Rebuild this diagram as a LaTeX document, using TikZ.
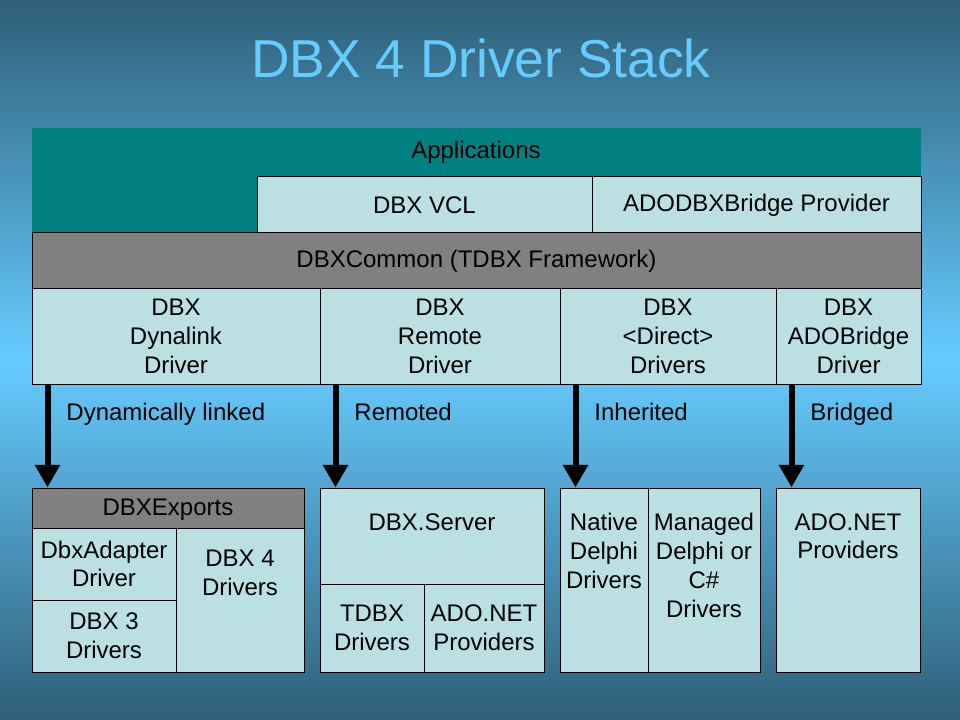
\documentclass[tikz,border=0pt]{standalone}
\usepackage{fontspec}
\setmainfont{Liberation Sans}
\usetikzlibrary{positioning}
\usetikzlibrary{arrows.meta}

\definecolor{appteal}{HTML}{008080}
\definecolor{cellblue}{HTML}{BBE0E3}
\definecolor{framegray}{HTML}{808080}
\definecolor{skydark}{HTML}{2F5F78}
\definecolor{skylight}{HTML}{66CCFF}
\definecolor{titleblue}{HTML}{66CCFF}

\tikzset{
  cell/.style={draw=black, line width=0.75pt, fill=cellblue, inner sep=0pt, align=center, font=\fontsize{18}{21.6}\selectfont},
  graycell/.style={fill=framegray},
  txt/.style={inner sep=0pt, align=center, font=\fontsize{18}{21.6}\selectfont},
  flow/.style={line width=4.5pt, -{Triangle[width=18pt,length=17pt]}},
  lbl/.style={txt, anchor=base west}
}

% box from (x1,y1) to (x2,y2), pixel units
\newcommand{\cellbox}[7][]{%
  \node[cell, #1, minimum width={(#5-#3)*0.75pt}, minimum height={(#6-#4)*0.75pt}]
    (#2) at ({(#3+#5)/2},{(#4+#6)/2}) {#7};}

\begin{document}
\begin{tikzpicture}[x=0.75pt, y=-0.75pt]
% background
\shade[top color=skydark, bottom color=skydark, middle color=skylight] (0,0) rectangle (960,720);
\node[font=\fontsize{40}{48}\selectfont, text=titleblue, inner sep=0pt] (title) at (481,58) {DBX 4 Driver Stack};

% upper stack
\fill[appteal] (32,128) rectangle (921,233);
\node[txt, anchor=base] (apps) at (476,159) {Applications};
\cellbox{vcl}{257}{177}{592}{233}{DBX VCL}
\cellbox{bridgeprov}{592}{177}{921}{233}{ADODBXBridge Provider}
\cellbox[graycell]{common}{32}{233}{921}{289}{DBXCommon (TDBX Framework)}
\cellbox{dyn}{32}{289}{320}{384}{DBX\\Dynalink\\Driver}
\cellbox{rem}{320}{289}{560}{384}{DBX\\Remote\\Driver}
\cellbox{dir}{560}{289}{776}{384}{DBX\\<Direct>\\Drivers}
\cellbox{bri}{776}{289}{921}{384}{DBX\\ADOBridge\\Driver}

% lower boxes
\cellbox[graycell]{exports}{32}{488}{304}{528}{}
\node[txt, anchor=base] (exportst) at (168,515) {DBXExports};
\cellbox{adapter}{32}{528}{176}{600}{DbxAdapter\\Driver}
\cellbox{dbx3}{32}{600}{176}{672}{DBX 3\\Drivers}
\cellbox{dbx4}{176}{528}{304}{672}{}
\node[txt, anchor=north] (dbx4t) at (240,550) {DBX 4\\Drivers};
\cellbox{server}{320}{488}{544}{584}{}
\node[txt, anchor=north] (servert) at (432,513) {DBX.Server};
\cellbox{tdbx}{320}{584}{424}{672}{TDBX\\Drivers}
\cellbox{srvado}{424}{584}{544}{672}{ADO.NET\\Providers}
\cellbox{native}{560}{488}{648}{672}{}
\node[txt, anchor=north] (nativet) at (604,513) {Native\\Delphi\\Drivers};
\cellbox{managed}{648}{488}{760}{672}{}
\node[txt, anchor=north] (managedt) at (704,513) {Managed\\Delphi or\\C\#\\Drivers};
\cellbox{adonet}{776}{488}{920}{672}{}
\node[txt, anchor=north] (adonett) at (848,513) {ADO.NET\\Providers};

% arrows
\foreach \s/\t/\l in {dyn/exports/Dynamically linked, rem/server/Remoted, dir/native/Inherited, bri/adonet/Bridged} {
  \draw[flow] ([xshift=12pt]\s.south west) -- ([xshift=12pt]\t.north west);
  \node[lbl] (\s-lbl) at ([xshift=26pt, yshift=-27pt]\s.south west) {\l};
}
\end{tikzpicture}
\end{document}
